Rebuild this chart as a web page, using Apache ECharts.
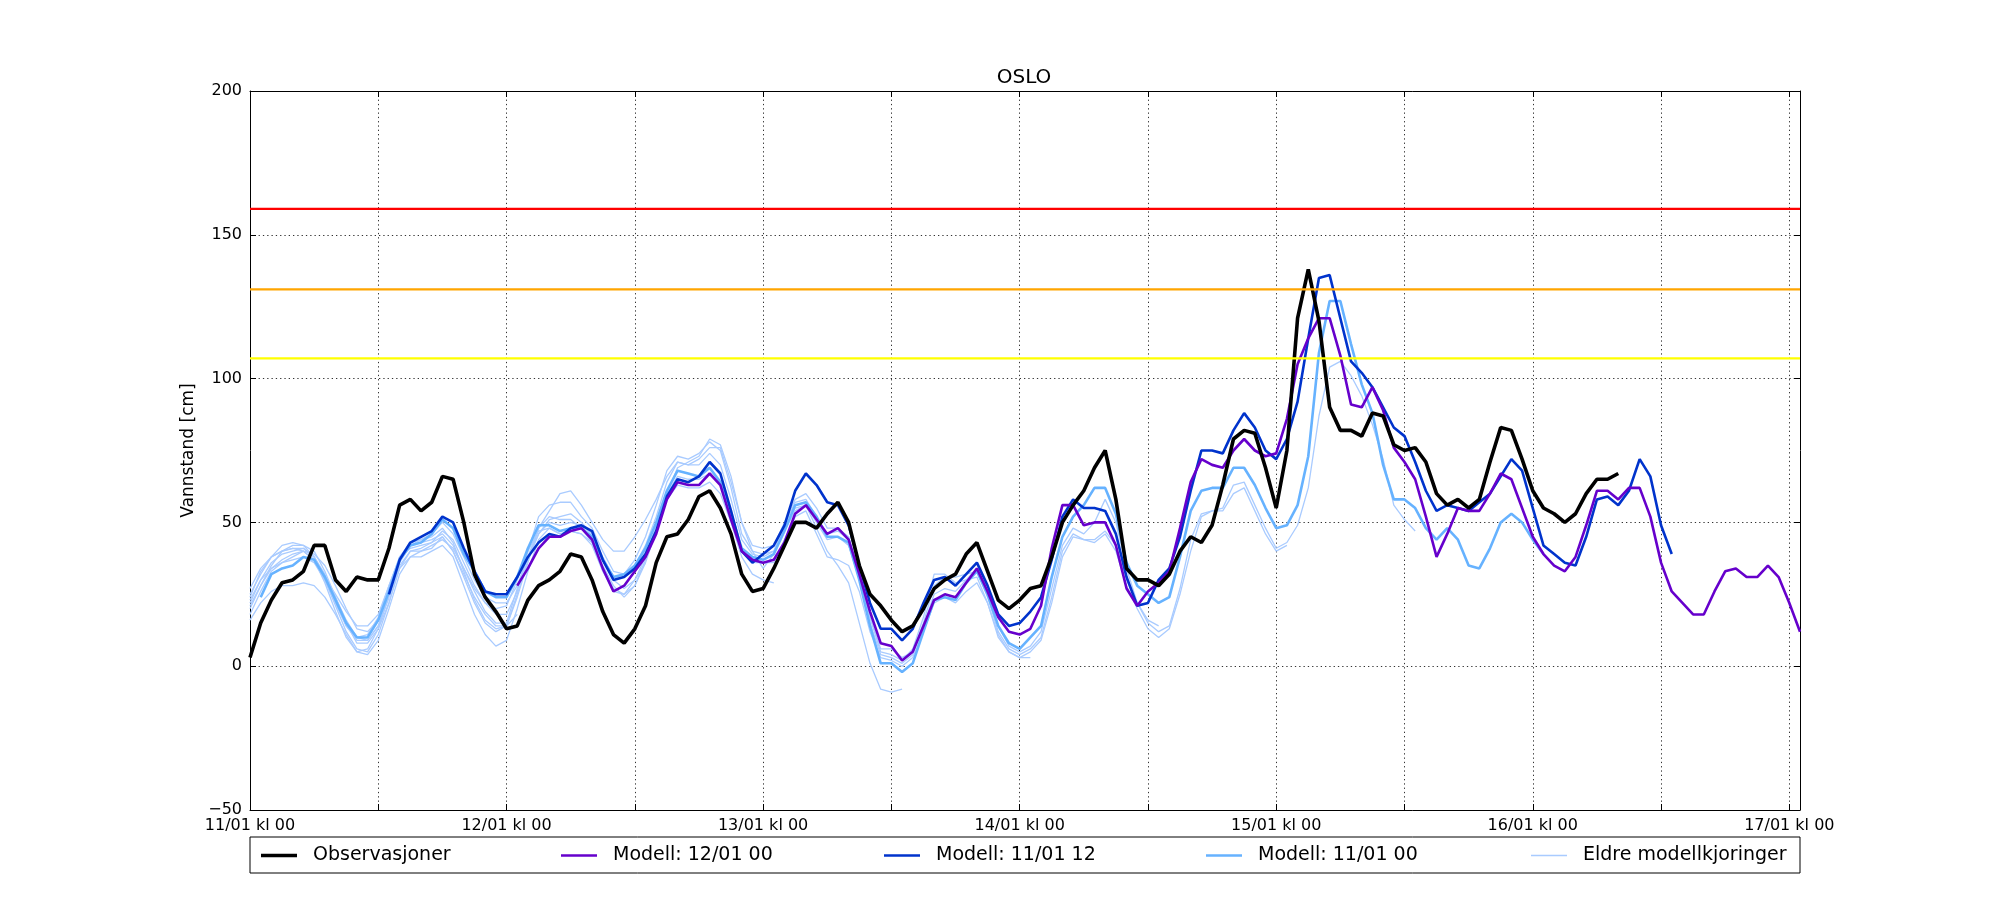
<!DOCTYPE html>
<html><head><meta charset="utf-8">
<script src="https://cdn.jsdelivr.net/npm/echarts@6/dist/echarts.min.js"></script>
<style>html,body{margin:0;padding:0;background:#fff}#c{width:2000px;height:900px}</style>
</head><body><div id="c"></div>
<script>
// ---- data (hourly, hour 0 = 11/01 kl 00) ----
const dayLabels = ['11/01 kl 00','12/01 kl 00','13/01 kl 00','14/01 kl 00','15/01 kl 00','16/01 kl 00','17/01 kl 00'];
const yTicks = [-50, 0, 50, 100, 150, 200];
const thresholdValues = [159, 131, 107];
const thresholdColors = ['#ff0000', '#ffa500', '#ffff00'];

const obsStart = 0;
const obs = [3,15,23,29,30,33,42,42,30,26,31,30,30,41,56,58,54,57,66,65,50,32,24,19,13,
  14,23,28,30,33,39,38,30,19,11,8,13,21,36,45,46,51,59,61,55,46,32,26,
  27,34,42,50,50,48,53,57,50,35,25,21,16,12,14,20,27,30,32,39,43,33,23,20,
  23,27,28,38,50,56,61,69,75,58,34,30,30,28,32,40,45,43,49,63,79,82,81,69,
  55,75,121,138,120,90,82,82,80,88,87,77,75,76,71,60,56,58,55,58,71,83,82,72,
  61,55,53,50,53,60,65,65,67];

const run1200Start = 25;
const run1200 = [28,34,41,45,45,47,48,44,34,26,28,33,38,46,58,64,63,63,67,63,51,40,37,36,
  37,43,53,56,51,46,48,44,32,19,8,7,2,5,14,23,25,24,29,34,26,17,12,11,
  13,21,41,56,56,49,50,50,42,27,21,26,29,33,48,64,72,70,69,75,79,75,73,74,
  86,105,114,121,121,108,91,90,97,89,76,71,65,52,38,46,55,54,54,60,67,65,55,45,39,35,33,38,49,61,
  61,58,62,62,52,36,26,22,18,18,26,33,34,31,31,35,31,22,12];

const run1112Start = 13;
const run1112 = [25,37,43,45,47,52,50,41,33,26,25,25,
  31,38,43,46,45,48,49,47,37,30,31,34,39,47,59,65,64,66,71,67,54,40,36,39,
  42,49,61,67,63,57,56,49,35,22,13,13,9,13,22,30,31,28,32,36,28,18,14,15,
  19,24,37,52,58,55,55,54,46,31,21,22,30,34,45,61,75,75,74,82,88,83,75,72,
  79,92,114,135,136,121,106,102,97,90,83,80,71,61,54,56,55,54,57,60,66,72,68,55,42,39,36,35,45,58,
  59,56,61,72,66,49,39];

const run1100Start = 1;
const run1100 = [24,32,34,35,38,37,31,23,15,10,10,16,26,37,42,43,46,51,48,39,33,26,24,24,
  31,41,49,49,47,48,48,45,37,31,32,35,41,50,61,68,67,66,69,64,53,41,38,37,
  39,47,56,57,52,45,45,43,30,14,1,1,-2,1,12,23,24,23,29,33,25,14,8,6,
  10,14,31,45,52,56,62,62,53,36,28,25,22,24,38,54,61,62,62,69,69,63,55,48,
  49,56,73,109,127,127,112,98,88,70,58,58,55,48,44,48,44,35,34,41,50,53,50,44,39];

// older model runs, all starting at hour 0
const older1 = [22,30,36,39,40,41,38,32,24,16,10,9,14,24,36,42,44,46,50,46,38,30,24,22,22,
  28,38,46,50,49,50,49,46,38,31,31,35,42,52,64,71,70,70,74,70,58,44,39,38,
  40,48,55,56,50,44,45,42,30,15,4,3,1,4,14,25,27,26,30,34,26,14,7,5,
  7,12,27,42,48,46,50,58,50,34,22,15,12,14,27,44,53,54,55,63,64,56,48,41,43,49,62,87,104,106,101,94,84,72,56,51,47];
const older2 = [20,28,35,40,42,42,40,33,24,15,8,8,13,22,34,40,41,43,47,44,36,28,22,18,18,
  26,40,52,56,57,57,52,48,40,33,32,37,45,56,68,73,72,74,78,75,62,46,40,39,
  40,49,57,58,52,46,47,44,32,17,6,6,3,5,15,28,31,31,32,33,24,12,6,4,
  6,10,24,40,46,44,43,46,40,28,20,13,10,13,25,40,52,54,54,60,62,54,46,40,42];
const older3 = [25,32,38,42,43,42,38,30,21,12,6,5,11,22,35,40,40,41,45,40,32,24,18,14,14,
  24,36,48,54,60,61,56,50,44,40,40,45,51,58,66,71,70,72,76,76,64,50,42,41,
  42,50,58,60,55,48,48,45,33,17,5,4,2,6,17,32,32,29,30,31,22,10,5,3,
  5,9,22,38,45,44,44,47,42,30,22,16,14];
const older4 = [18,26,33,36,37,38,36,30,22,14,10,11,17,28,38,42,43,44,46,42,34,27,22,20,21,
  30,40,47,48,46,47,46,42,33,26,25,30,38,49,60,66,65,65,67,63,52,40,36,36,
  36,44,52,54,46,38,37,35,26,12,3,2,0,3,12,22,24,22,26,29,22,11,5,3,3];
const older5 = [23,30,34,36,38,40,39,35,28,20,13,12,16,25,34,38,40,42,44,41,34,26,19,15,15,
  27,38,48,52,51,51,48,43,34,27,25,28,36,47,60,69,71,73,79,77,66,50,40,34,
  39,47,54,56,48,40,35,29,15,1,-8,-9,-8];
const older6 = [16,22,26,28,28,29,28,24,18,11,5,4,9,20,32,38,38,40,42,38,28,18,11,7,9,
  20,33,44,48,46,47,46,43,35,28,24,28,37,48,58,63,62,62,64,60,50,38,32,30,29];
const older7 = [27,34,38,40,41,40,37,31,25,19,14,14,18,28,38,41,42,43,45,40,31,22,15,12,14,
  25,37,46,51,52,53,50,46,37,30,27,30,36];
const older8 = [21,28,34,37,39,40,37,29,19,10,5,6,13,25,38,43,44,45,48,43,33,23,16,13,14,18];
const older9 = [24,33,38,40,41,41,38,31,22,14,9,9,14,24];
const olderRuns = [older1, older2, older3, older4, older5, older6, older7, older8, older9];

const names = ['Observasjoner', 'Modell: 12/01 00', 'Modell: 11/01 12', 'Modell: 11/01 00', 'Eldre modellkjoringer'];

// ---- chart ----
const FONT = 'DejaVu Sans';
const X_MAX = 145;
function pts(start, vals) { return vals.map((v, i) => [start + i, v]); }
function lineSeries(name, start, vals, color, width, z) {
  return { name, type: 'line', data: pts(start, vals), symbol: 'none', showSymbol: false,
    lineStyle: { color, width }, itemStyle: { color }, z, silent: true, animation: false };
}

const PALE = '#a9cbff';
const series = [];
olderRuns.forEach(r => series.push(lineSeries(names[4], 0, r, PALE, 1.3, 2)));
series.push(lineSeries(names[3], run1100Start, run1100, '#66b2ff', 2.6, 3));
series.push(lineSeries(names[2], run1112Start, run1112, '#0033cc', 2.6, 4));
series.push(lineSeries(names[1], run1200Start, run1200, '#6600cc', 2.6, 5));
series.push(lineSeries(names[0], obsStart, obs, '#000000', 3.6, 6));
thresholdValues.forEach((v, i) => {
  series.push({ name: 'thr' + i, type: 'line', data: [[0, v], [X_MAX, v]], symbol: 'none',
    lineStyle: { color: thresholdColors[i], width: 2.2 }, itemStyle: { color: thresholdColors[i] }, z: 7, silent: true });
});

const legendLeft = [256, 556, 879, 1201, 1526];
const legendH = [3.5, 2.6, 2.6, 2.6, 1.4];
const legends = names.map((n, i) => ({
  data: [n], left: legendLeft[i], top: 841, icon: 'rect', itemWidth: 36, itemHeight: legendH[i],
  selectedMode: false, textStyle: { fontFamily: FONT, fontSize: 19, color: '#000', padding: [0, 0, 0, 11] }
}));

const gridDots = { color: '#333', width: 1, type: [1.3, 3] };
const chart = echarts.init(document.getElementById('c'), null, { renderer: 'canvas' });
chart.setOption({
  animation: false,
  backgroundColor: '#fff',
  title: { text: 'OSLO', left: 1019, top: 63, textAlign: 'center',
    textStyle: { fontFamily: FONT, fontSize: 20, fontWeight: 'normal', color: '#000' } },
  grid: { left: 250, right: 200, top: 91, bottom: 90, containLabel: false },
  legend: legends,
  graphic: [{ type: 'rect', shape: { x: 250, y: 837, width: 1550, height: 36 }, z: -1,
    style: { fill: '#fff', stroke: '#000', lineWidth: 1 } }],
  xAxis: [
    { type: 'value', min: 0, max: X_MAX, interval: 12, position: 'bottom',
      axisLine: { show: true, onZero: false, lineStyle: { color: '#000', width: 1 } },
      axisTick: { show: true, inside: true, length: 6, lineStyle: { color: '#000' } },
      axisLabel: { color: '#000', fontFamily: FONT, fontSize: 16, margin: 8,
        formatter: v => (v % 24 === 0 ? dayLabels[v / 24] : '') },
      splitLine: { show: true, lineStyle: gridDots } },
    { type: 'value', min: 0, max: X_MAX, interval: 12, position: 'top',
      axisLine: { show: true, onZero: false, lineStyle: { color: '#000', width: 1 } },
      axisTick: { show: true, inside: true, length: 6, lineStyle: { color: '#000' } },
      axisLabel: { show: false }, splitLine: { show: false } }
  ],
  yAxis: [
    { type: 'value', min: yTicks[0], max: yTicks[yTicks.length - 1], interval: 50, position: 'left',
      name: 'Vannstand [cm]', nameLocation: 'middle', nameGap: 50,
      nameTextStyle: { fontFamily: FONT, fontSize: 17, color: '#000' },
      axisLine: { show: true, onZero: false, lineStyle: { color: '#000', width: 1 } },
      axisTick: { show: true, inside: true, length: 6, lineStyle: { color: '#000' } },
      axisLabel: { color: '#000', fontFamily: FONT, fontSize: 16, margin: 8,
        formatter: v => (v < 0 ? '\u2212' + Math.abs(v) : String(v)) },
      splitLine: { show: true, lineStyle: gridDots } },
    { type: 'value', min: yTicks[0], max: yTicks[yTicks.length - 1], interval: 50, position: 'right',
      axisLine: { show: true, onZero: false, lineStyle: { color: '#000', width: 1 } },
      axisTick: { show: true, inside: true, length: 6, lineStyle: { color: '#000' } },
      axisLabel: { show: false }, splitLine: { show: false } }
  ],
  series
});
</script></body></html>
